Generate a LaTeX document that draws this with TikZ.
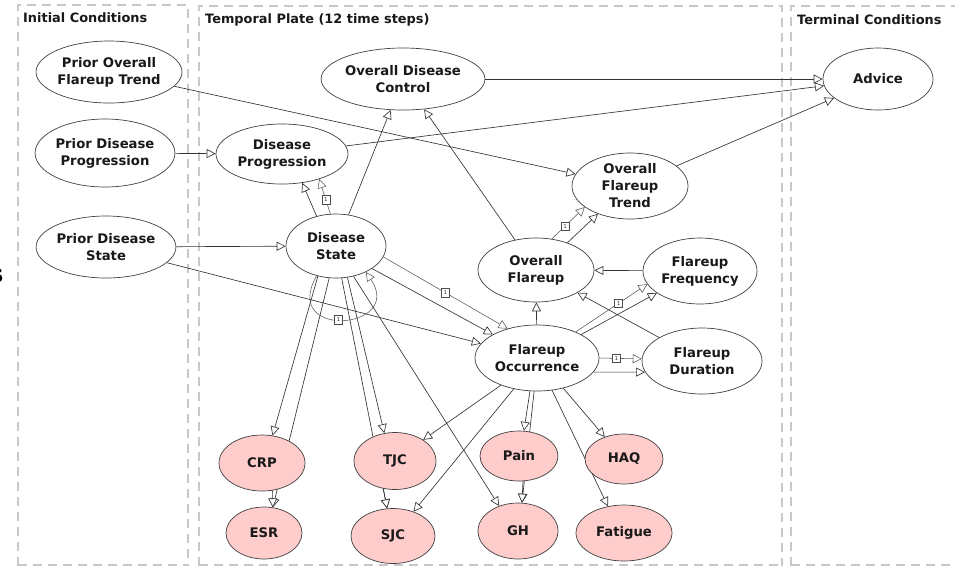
\documentclass[tikz,border=0pt]{standalone}
\usepackage{fontspec}
\setmainfont{DejaVu Sans}
\usetikzlibrary{arrows.meta,shapes.geometric,backgrounds}
\definecolor{pinkfill}{RGB}{255,204,204}
\definecolor{framegray}{RGB}{200,200,200}
\begin{document}
\begin{tikzpicture}[x=1pt,y=-1pt,
  bn/.style={ellipse, draw=black!75, line width=0.7pt, fill=white, inner sep=0pt,
    align=center, font=\bfseries\fontsize{13.2}{17}\selectfont, text=black!90},
  obs/.style={bn, fill=pinkfill},
  conn/.style={draw=black!80, line width=0.65pt,
    -{Triangle[fill=white, length=9pt, width=9pt]}},
  tconn/.style={draw=black!65, line width=0.55pt,
    -{Triangle[fill=white, length=9pt, width=9pt]}},
  onebox/.style={draw=black!70, fill=white, line width=0.5pt, inner sep=0pt,
    minimum width=8pt, minimum height=8.5pt, font=\fontsize{5.5}{6}\selectfont, text=black!80},
  frame/.style={draw=framegray, line width=1.4pt, dash pattern=on 9pt off 6pt},
  title/.style={anchor=west, font=\bfseries\fontsize{12.9}{15}\selectfont, text=black!90, inner sep=0pt}
]
\useasboundingbox (0,0) rectangle (955,566);

% nodes
\node[bn, minimum width=136pt, minimum height=62pt] (poft) at (109,72) {Prior Overall\\Flareup Trend};
\node[bn, minimum width=128pt, minimum height=68pt] (pdp) at (105,153) {Prior Disease\\Progression};
\node[bn, minimum width=126pt, minimum height=62pt] (pds) at (106,247) {Prior Disease\\State};
\node[bn, minimum width=138pt, minimum height=62pt] (odc) at (403,79) {Overall Disease\\Control};
\node[bn, minimum width=132pt, minimum height=60pt] (dp) at (282,154) {Disease\\Progression};
\node[bn, minimum width=100pt, minimum height=64pt] (ds) at (336,246) {Disease\\State};
\node[bn, minimum width=110pt, minimum height=62pt] (adv) at (878,79) {Advice};
\node[bn, minimum width=116pt, minimum height=66pt] (oft) at (630,186) {Overall\\Flareup\\Trend};
\node[bn, minimum width=116pt, minimum height=64pt] (of) at (536,270) {Overall\\Flareup};
\node[bn, minimum width=114pt, minimum height=66pt] (ff) at (700,271) {Flareup\\Frequency};
\node[bn, minimum width=124pt, minimum height=66pt] (fo) at (537,358) {Flareup\\Occurrence};
\node[bn, minimum width=120pt, minimum height=66pt] (fd) at (702,361) {Flareup\\Duration};
\node[obs, minimum width=86pt, minimum height=56pt] (crp) at (262,463) {CRP};
\node[obs, minimum width=76pt, minimum height=52pt] (esr) at (264,533) {ESR};
\node[obs, minimum width=82pt, minimum height=57pt] (tjc) at (395,461) {TJC};
\node[obs, minimum width=84pt, minimum height=55pt] (sjc) at (393,536) {SJC};
\node[obs, minimum width=78pt, minimum height=50pt] (pain) at (519,456) {Pain};
\node[obs, minimum width=78pt, minimum height=50pt] (haq) at (624,459) {HAQ};
\node[obs, minimum width=80pt, minimum height=56pt] (gh) at (518,531) {GH};
\node[obs, minimum width=96pt, minimum height=56pt] (fat) at (624,533) {Fatigue};

\begin{scope}[on background layer]
% frames
\draw[frame] (18,566) -- (18,5) -- (188,5) -- (188,566);
\draw[frame] (18,565) -- (188,565);
\draw[frame] (199,566) -- (199,6) -- (782,6) -- (782,566);
\draw[frame] (199,565) -- (782,565);
\draw[frame] (791,566) -- (791,6) -- (965,6);
\draw[frame] (791,565) -- (965,565);

% connectors
\draw[conn] (poft) -- (oft);
\draw[conn] (pdp) -- (dp);
\draw[conn] (pds) -- (ds);
\draw[conn] (pds) -- (fo);
\draw[conn] (odc) -- (adv);
\draw[conn] (dp) -- (adv);
\draw[conn] (oft) -- (adv);
\draw[conn] (ds) -- (odc);
\draw[conn] (of) -- (odc);
\draw[conn] (ds.123) -- (dp.-55);
\draw[tconn] (ds.100) -- node[onebox, pos=0.4]{1} (dp.-34);
\draw[tconn] (of.63) -- node[onebox, pos=0.4]{1} (oft.205);
\draw[conn] (of.41) -- (oft.221);
\draw[conn] (ff) -- (of);
\draw[conn] (fo) -- (of);
\draw[conn] (fd) -- (of);
\draw[tconn] (fo.34) -- node[onebox, pos=0.6]{1} (ff.194);
\draw[conn] (fo.28) -- (ff.207);
\draw[tconn] (fo.0) -- node[onebox, pos=0.4]{1} (fd.178);
\draw[conn] (fo.-14) -- (fd.191);
\draw[tconn] (ds.-13) -- node[onebox, pos=0.5]{1} (fo.135);
\draw[conn] (ds.-32) -- (fo.152);
\draw[tconn] (ds.237) .. controls (280,340) and (405,330) .. node[onebox, pos=0.47]{1} (ds.-41);
\draw[conn] (ds.258) -- (esr.71);
\draw[conn] (ds.239) -- (crp.69);
\draw[conn] (crp.-69) -- (esr.71);
\draw[conn] (ds.-80) -- (sjc.102);
\draw[conn] (ds.-70.5) -- (tjc.111);
\draw[conn] (tjc.247) -- (sjc.102);
\draw[conn] (ds.-60) -- (gh.127);
\draw[conn] (fo.217) -- (tjc.37);
\draw[conn] (fo.233) -- (sjc.50);
\draw[conn] (fo.265) -- (gh.82);
\draw[conn] (fo.258) -- (pain.79);
\draw[conn] (pain.-81) -- (gh.82);
\draw[conn] (fo.-49) -- (haq.131);
\draw[conn] (fo.-65) -- (fat.121);
\end{scope}

% titles
\node[title] (t1) at (23,18) {Initial Conditions};
\node[title] (t2) at (205,20) {Temporal Plate (12 time steps)};
\node[title] (t3) at (797,20) {Terminal Conditions};
\node[anchor=east, inner sep=0pt, font=\bfseries\fontsize{24}{24}\selectfont] (frag) at (3.5,276) {s};
\end{tikzpicture}
\end{document}
